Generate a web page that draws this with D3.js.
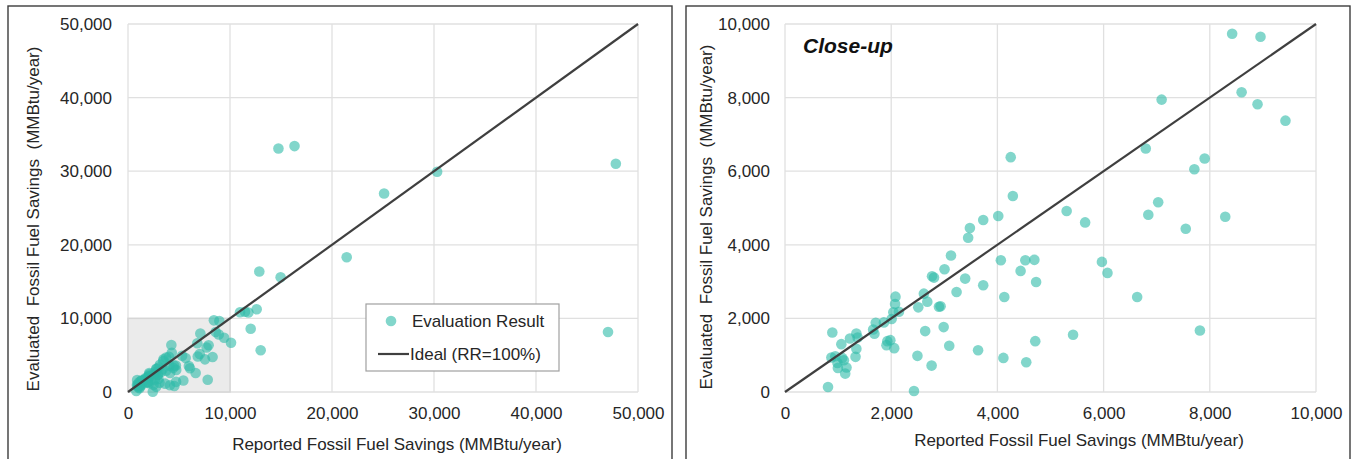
<!DOCTYPE html>
<html>
<head>
<meta charset="utf-8">
<script src="https://cdn.jsdelivr.net/npm/d3@7"></script>
<style>
  body { margin: 0; background: #fff; }
  svg { display: block; font-family: "Liberation Sans", Arial, sans-serif; }
</style>
</head>
<body>
<svg id="chart" width="1354" height="459"></svg>
<script>
// reported vs evaluated savings, MMBtu/year
const reported = [
  8421, 8955, 8599, 8899, 9425, 7093, 6794, 7903, 7709, 7028,
  6842, 8291, 7547, 6632, 7814, 5968, 6073, 5304, 5652, 5425,
  4251, 4291, 4016, 3733, 3482, 3449, 3126, 3004, 3393, 3733,
  2769, 2806, 3231, 2899, 2930, 2615, 2680, 2510, 2081, 2073,
  2040, 2146, 2008, 1862, 1709, 1660, 1684, 2988, 2640, 3093,
  3636, 4065, 4130, 4437, 4526, 4696, 4729, 4713, 4113, 4543,
  2494, 2761, 2429, 810, 891, 1061, 1223, 1344, 1368, 1344,
  1328, 1927, 1984, 1911, 2057, 874, 947, 988, 996, 1109,
  1158, 1134, 1077,
  14749, 16326, 47826, 30307, 25107, 21441, 12873, 14962, 12617, 11470,
  10980, 11800, 12029, 13009, 10100, 47059
];
const evaluated = [
  9736, 9655, 8145, 7818, 7373, 7945, 6618, 6345, 6055, 5155,
  4818, 4764, 4436, 2582, 1673, 3536, 3236, 4918, 4609, 1555,
  6382, 5327, 4782, 4673, 4455, 4191, 3709, 3336, 3082, 2900,
  3145, 3109, 2718, 2318, 2330, 2673, 2455, 2300, 2591, 2391,
  2164, 2182, 1982, 1891, 1882, 1700, 1582, 1764, 1655, 1255,
  1136, 3582, 2582, 3291, 3582, 3591, 2991, 1382, 927, 809,
  982, 718, 27, 136, 1618, 1300, 1455, 1591, 1482, 1173,
  955, 1382, 1409, 1273, 1191, 936, 973, 791, 655, 864,
  664, 500, 927,
  33092, 33409, 31006, 29918, 26972, 18314, 16365, 15594, 11236, 10900,
  10830, 10800, 8601, 5666, 6700, 8160
];
const leftTicks = [0, 10000, 20000, 30000, 40000, 50000];
const rightTicks = [0, 2000, 4000, 6000, 8000, 10000];
const closeUpLimit = 10000;
const xTitle = 'Reported Fossil Fuel Savings (MMBtu/year)';
const yTitle = 'Evaluated  Fossil Fuel Savings  (MMBtu/year)';
const legendLabels = ['Evaluation Result', 'Ideal (RR=100%)'];

const points = reported.map((r, i) => ({ r: r, e: evaluated[i] }));

const svg = d3.select('#chart');
const fmt = d3.format(',');
const dotFill = '#2ebaa9';
const textCol = '#262626';

function panel(cfg) {
  const g = svg.append('g');
  const ticks = cfg.ticks;
  const max = ticks[ticks.length - 1];

  // panel frame
  g.append('rect')
    .attr('x', cfg.frame[0]).attr('y', cfg.frame[1])
    .attr('width', cfg.frame[2]).attr('height', 470)
    .attr('fill', 'none').attr('stroke', '#3c3c3c').attr('stroke-width', 1.4);

  const x = d3.scaleLinear().domain([0, max]).range([cfg.left, cfg.right]);
  const y = d3.scaleLinear().domain([0, max]).range([cfg.bottom, cfg.top]);

  // grid
  g.append('g').selectAll('line').data(ticks).join('line')
    .attr('x1', d => x(d)).attr('x2', d => x(d))
    .attr('y1', y(0)).attr('y2', y(max))
    .attr('stroke', '#e0e0e0').attr('stroke-width', 1.3);
  g.append('g').selectAll('line').data(ticks).join('line')
    .attr('y1', d => y(d)).attr('y2', d => y(d))
    .attr('x1', x(0)).attr('x2', x(max))
    .attr('stroke', '#e0e0e0').attr('stroke-width', 1.3);

  if (cfg.box) {
    g.append('rect')
      .attr('x', x(0)).attr('y', y(cfg.box))
      .attr('width', x(cfg.box) - x(0)).attr('height', y(0) - y(cfg.box))
      .attr('fill', '#ebebeb').attr('stroke', '#d6d6d6').attr('stroke-width', 1.5);
  }

  // axes (labels only)
  const xAxis = g.append('g')
    .attr('transform', `translate(0,${cfg.bottom})`)
    .call(d3.axisBottom(x).tickValues(ticks).tickFormat(fmt).tickSize(0).tickPadding(15));
  const yAxis = g.append('g')
    .attr('transform', `translate(${cfg.left},0)`)
    .call(d3.axisLeft(y).tickValues(ticks).tickFormat(fmt).tickSize(0).tickPadding(cfg.yPad));
  [xAxis, yAxis].forEach(a => {
    a.select('.domain').remove();
    a.selectAll('text').attr('font-size', 17).attr('fill', textCol)
      .attr('font-family', '"Liberation Sans", Arial, sans-serif');
  });

  // points
  const data = points.filter(p => p.r <= max && p.e <= max);
  g.append('g').selectAll('circle').data(data).join('circle')
    .attr('cx', d => x(d.r)).attr('cy', d => y(d.e)).attr('r', 5.3)
    .attr('fill', dotFill).attr('fill-opacity', 0.6);

  // ideal line
  g.append('line')
    .attr('x1', x(0)).attr('y1', y(0)).attr('x2', x(max)).attr('y2', y(max))
    .attr('stroke', '#3f3f3f').attr('stroke-width', 2.2);

  // titles
  g.append('text')
    .attr('x', cfg.xTitle[0]).attr('y', cfg.xTitle[1])
    .attr('text-anchor', 'middle').attr('font-size', 17).attr('fill', textCol)
    .text(xTitle);
  g.append('text')
    .attr('transform', `translate(${cfg.yTitle[0]},${cfg.yTitle[1]}) rotate(-90)`)
    .attr('text-anchor', 'middle').attr('dy', '0.35em')
    .attr('font-size', 17).attr('fill', textCol)
    .style('white-space', 'pre')
    .text(yTitle);
  return { g, x, y };
}

const L = panel({
  frame: [8, 6, 664], left: 128, right: 638, top: 24, bottom: 392,
  ticks: leftTicks, yPad: 16, box: closeUpLimit,
  xTitle: [397, 450], yTitle: [33, 219]
});

const R = panel({
  frame: [686, 6, 664], left: 785, right: 1316, top: 24, bottom: 392,
  ticks: rightTicks, yPad: 15,
  xTitle: [1079, 446], yTitle: [706, 217]
});

R.g.append('text')
  .attr('x', 803).attr('y', 53)
  .attr('font-size', 21).attr('font-weight', 'bold').attr('font-style', 'italic')
  .attr('fill', '#111')
  .text('Close-up');

// legend
const lg = L.g.append('g');
lg.append('rect')
  .attr('x', 366).attr('y', 304).attr('width', 193).attr('height', 67)
  .attr('fill', '#fff').attr('stroke', '#a0a0a0').attr('stroke-width', 1.2);
lg.append('circle')
  .attr('cx', 391).attr('cy', 321).attr('r', 5.3)
  .attr('fill', dotFill).attr('fill-opacity', 0.6);
lg.append('line')
  .attr('x1', 378).attr('x2', 409).attr('y1', 354).attr('y2', 354)
  .attr('stroke', '#3f3f3f').attr('stroke-width', 2.2);
lg.selectAll('text').data(legendLabels).join('text')
  .attr('x', (d, i) => i === 0 ? 412 : 410)
  .attr('y', (d, i) => i === 0 ? 327 : 360)
  .attr('font-size', 17).attr('fill', textCol)
  .text(d => d);
</script>
</body>
</html>
